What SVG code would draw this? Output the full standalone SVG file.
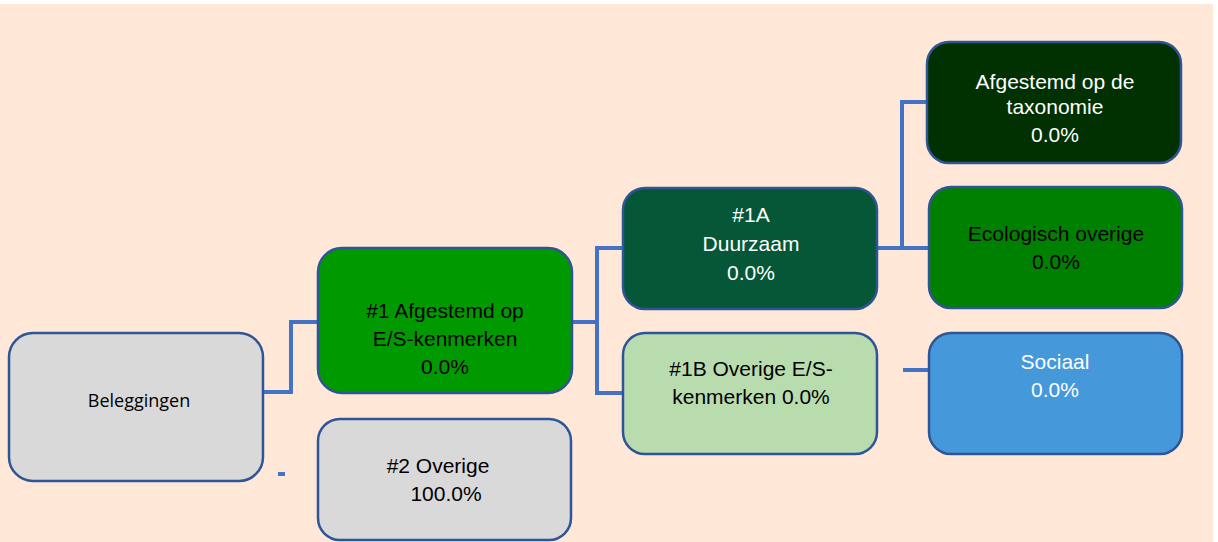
<svg xmlns="http://www.w3.org/2000/svg" width="1218" height="542" viewBox="0 0 1218 542">
<style>
.box{stroke:#2F5597;stroke-width:2.5}
.con{fill:none;stroke:#4472C4;stroke-width:4}
text{font-family:"Liberation Sans",Arial,sans-serif;font-size:21px;text-anchor:middle;dominant-baseline:central}
.w{fill:#FFFFFF}
.b{fill:#000000}
.cal{font-family:"Open Sans","Liberation Sans",sans-serif;font-size:18px}
</style>
<rect x="0" y="4" width="1213" height="538" fill="#FFE8D7"/>
<g id="connectors">
<polyline class="con" points="263,392 291,392 291,322 318,322"/>
<polyline class="con" points="572,322 597,322"/>
<polyline class="con" points="623,248 597,248 597,393 623,393"/>
<polyline class="con" points="877,248 930,248"/>
<polyline class="con" points="902,248 902,102 927,102"/>
<line class="con" x1="903" y1="370" x2="933" y2="370"/>
<line class="con" x1="278" y1="474" x2="285" y2="474"/>
</g>
<g id="beleggingen">
<rect class="box" x="9" y="333" width="254" height="148" rx="24" fill="#D9D9D9"/>
<text class="b cal" x="139" y="400">Beleggingen</text>
</g>
<g id="n1">
<rect class="box" x="318" y="248" width="254" height="145" rx="24" fill="#009900"/>
<text class="b" x="445" y="310">#1 Afgestemd op</text>
<text class="b" x="445" y="338">E/S-kenmerken</text>
<text class="b" x="445" y="366">0.0%</text>
</g>
<g id="n2">
<rect class="box" x="318" y="419" width="253" height="121" rx="22" fill="#D9D9D9"/>
<text class="b" x="438" y="465">#2 Overige</text>
<text class="b" x="446" y="493">100.0%</text>
</g>
<g id="n1a">
<rect class="box" x="623" y="188" width="254" height="121" rx="22" fill="#055738"/>
<text class="w" x="751" y="214">#1A</text>
<text class="w" x="751" y="243">Duurzaam</text>
<text class="w" x="751" y="272">0.0%</text>
</g>
<g id="n1b">
<rect class="box" x="623" y="333" width="254" height="121" rx="22" fill="#B9DCAF"/>
<text class="b" x="751" y="368">#1B Overige E/S-</text>
<text class="b" x="751" y="396">kenmerken 0.0%</text>
</g>
<g id="taxonomie">
<rect class="box" x="927" y="42" width="254" height="121" rx="22" fill="#013100"/>
<text class="w" x="1055" y="81">Afgestemd op de</text>
<text class="w" x="1055" y="106">taxonomie</text>
<text class="w" x="1055" y="134">0.0%</text>
</g>
<g id="ecologisch">
<rect class="box" x="929" y="187" width="253" height="121" rx="22" fill="#008000"/>
<text class="b" x="1056" y="233">Ecologisch overige</text>
<text class="b" x="1056" y="261">0.0%</text>
</g>
<g id="sociaal">
<rect class="box" x="929" y="333" width="253" height="121" rx="22" fill="#4599DA"/>
<text class="w" x="1055" y="361">Sociaal</text>
<text class="w" x="1055" y="389">0.0%</text>
</g>
</svg>
